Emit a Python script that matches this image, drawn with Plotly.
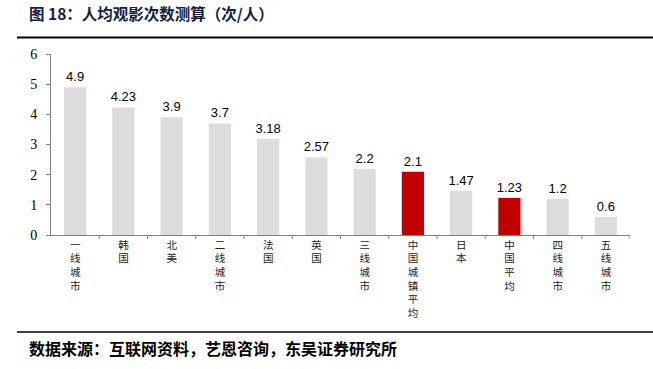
import plotly.graph_objects as go

categories = ["一线城市", "韩国", "北美", "二线城市", "法国", "英国", "三线城市",
              "中国城镇平均", "日本", "中国平均", "四线城市", "五线城市"]
values = [4.9, 4.23, 3.9, 3.7, 3.18, 2.57, 2.2, 2.1, 1.47, 1.23, 1.2, 0.6]
value_labels = ["4.9", "4.23", "3.9", "3.7", "3.18", "2.57", "2.2", "2.1", "1.47", "1.23", "1.2", "0.6"]
highlight = ["中国城镇平均", "中国平均"]
y_ticks = [0, 1, 2, 3, 4, 5, 6]

colors = ["#c00000" if c in highlight else "#dcdcdc" for c in categories]
tick_text = ["<br>".join(list(c)) for c in categories]

fig = go.Figure()
fig.add_trace(go.Bar(
    x=list(range(len(categories))), y=values, marker_color=colors,
    marker_line_width=0, width=0.46,
    text=value_labels, textposition="outside", cliponaxis=False,
    constraintext="none",
    textfont=dict(family="Liberation Sans, Arial", size=13, color="#000000"),
))

fig.update_layout(
    width=653, height=369,
    margin=dict(l=51, r=23, t=54, b=134, autoexpand=False),
    paper_bgcolor="white", plot_bgcolor="white",
    showlegend=False,
    xaxis=dict(
        range=[-0.5, len(categories) - 0.5], automargin=False,
        tickmode="array", tickvals=list(range(len(categories))), ticktext=tick_text,
        ticks="", showline=True, linecolor="#808080", linewidth=1,
        tickfont=dict(family="Noto Sans CJK SC", size=10.5, color="#222222"),
        showgrid=False, zeroline=False,
    ),
    yaxis=dict(
        range=[0, 6], tickvals=y_ticks, ticks="outside", ticklen=4, automargin=False,
        ticklabelstandoff=6,
        tickcolor="#808080", showline=True, linecolor="#808080", linewidth=1,
        tickfont=dict(family="Liberation Serif, Times New Roman", size=14, color="#000000"),
        showgrid=False, zeroline=False,
    ),
    font=dict(family="Noto Sans CJK SC"),
)

# category boundary tick marks
for i in range(len(categories)):
    fig.add_shape(type="line", xref="x", yref="paper",
                  x0=i + 0.5, x1=i + 0.5, y0=0, y1=-0.022,
                  line=dict(color="#808080", width=1))

# title and footnote
fig.add_annotation(text="<b>图 18：人均观影次数测算（次/人）</b>", xref="paper", yref="paper",
                   x=(27 - 51) / 579, y=1 + (54 - 13) / 181, xanchor="left", yanchor="middle",
                   showarrow=False, font=dict(family="Noto Sans CJK SC", size=15.5, color="#14213d"))
fig.add_shape(type="line", xref="paper", yref="paper",
              x0=(17 - 51) / 579, x1=(653 - 51) / 579,
              y0=1 + (54 - 37.5) / 181, y1=1 + (54 - 37.5) / 181,
              line=dict(color="#000000", width=2))
fig.add_shape(type="line", xref="paper", yref="paper",
              x0=(17 - 51) / 579, x1=(653 - 51) / 579,
              y0=(235 - 332) / 181, y1=(235 - 332) / 181,
              line=dict(color="#000000", width=1.5))
fig.add_annotation(text="<b>数据来源：互联网资料，艺恩咨询，东吴证券研究所</b>", xref="paper", yref="paper",
                   x=(27 - 51) / 579, y=(235 - 348) / 181, xanchor="left", yanchor="middle",
                   showarrow=False, font=dict(family="Noto Sans CJK SC", size=16, color="#000000"))

fig.write_html("out.html", config={"displayModeBar": False},
               post_script="document.body.style.margin='0px';document.body.style.overflow='hidden';")
